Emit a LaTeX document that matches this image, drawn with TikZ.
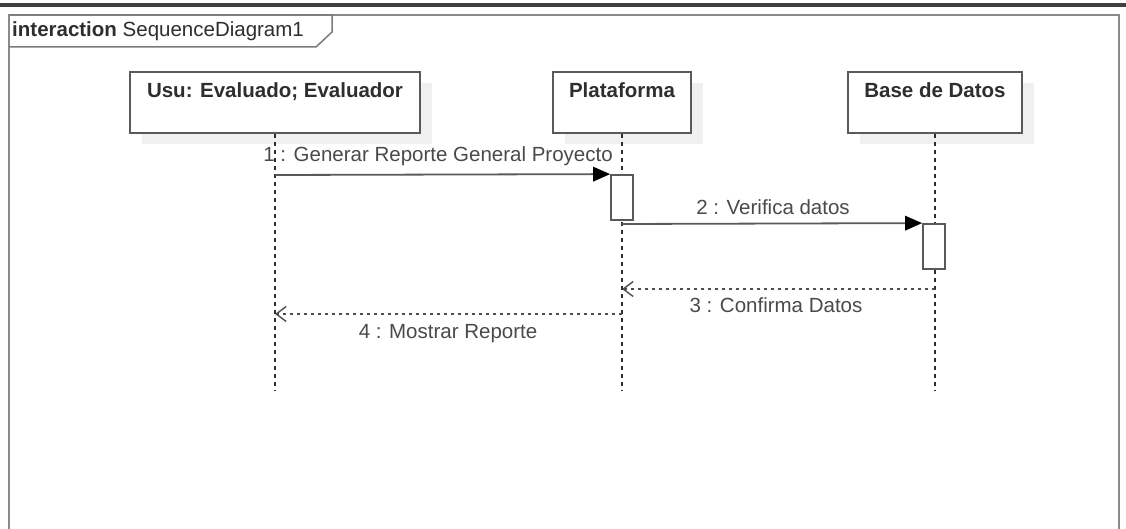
\documentclass[tikz,border=0pt]{standalone}
\usepackage{fontspec}
\setmainfont{Liberation Sans}
\usetikzlibrary{arrows.meta,shadows}
\definecolor{framegray}{HTML}{8A8A8A}
\definecolor{boxgray}{HTML}{5A5A5A}
\definecolor{txtgray}{HTML}{4A4A4A}
\definecolor{hdrtxt}{HTML}{2E2E2E}
\definecolor{shadowgray}{HTML}{F0F0F0}
\definecolor{topbar}{HTML}{404040}
\begin{document}
\begin{tikzpicture}[x=1pt,y=-1pt,
  every node/.style={font=\fontsize{20.5}{24}\selectfont},
  lifebox/.style={draw=boxgray, line width=1.8pt, fill=white, inner xsep=0pt, inner ysep=0pt,
    text height=26pt, text depth=35pt, text=hdrtxt, font=\fontsize{20.5}{24}\selectfont\bfseries,
    drop shadow={shadow xshift=12pt, shadow yshift=-11pt, fill=shadowgray, opacity=1}},
  actbox/.style={draw=boxgray, line width=1.8pt, fill=white, minimum width=22pt, minimum height=45pt, inner sep=0pt},
  lifeline/.style={draw=hdrtxt, line width=1.5pt, dash pattern=on 4pt off 4pt},
  msg/.style={draw=boxgray, line width=1.8pt, -{Triangle[length=17pt,width=15pt,fill=black,line width=0pt]}},
  ret/.style={draw=hdrtxt!85, line width=1.8pt, dash pattern=on 3.5pt off 3.5pt,
    -{Straight Barb[length=10pt,width=15pt,line width=1.4pt]}},
  lbl/.style={text=txtgray, anchor=base, inner sep=0pt}
]
\useasboundingbox (0,0) rectangle (1126,529);
\fill[white] (0,0) rectangle (1126,529);
% top bar
\fill[topbar] (0,3.5) rectangle (1126,7);
% frame
\draw[framegray, line width=2pt] (9,535) -- (9,15) -- (1119,15) -- (1119,535);
\draw[boxgray!80, line width=1.5pt] (9,15) -- (332,15) -- (332,32) -- (316,47) -- (9,47);
\node[anchor=base west, inner sep=0pt, text=hdrtxt] (title) at (12,37) {\textbf{interaction} SequenceDiagram1};

% lifeline headers
\node[lifebox, minimum width=290pt] (usu) at (275,102.5) {Usu: Evaluado; Evaluador};
\node[lifebox, minimum width=138pt] (plat) at (622,102.5) {Plataforma};
\node[lifebox, minimum width=174pt] (bd) at (935,102.5) {Base de Datos};

% lifeline ends
\coordinate (usuEnd) at (275,390);
\coordinate (platEnd) at (622,390);
\coordinate (bdEnd) at (935,390);
\draw[lifeline] (usu.south) -- (usuEnd);
\draw[lifeline] (plat.south) -- (platEnd);
\draw[lifeline] (bd.south) -- (bdEnd);

% activations
\node[actbox] (act1) at (622,197.5) {};
\node[actbox] (act2) at (934,246.5) {};

% message points
\coordinate (m1s) at (275,175);
\coordinate (m2s) at (622,224);
\coordinate (m3s) at (935,289);
\coordinate (m3e) at (622,289);
\coordinate (m4s) at (622,314);
\coordinate (m4e) at (275,314);

\draw[msg] (m1s) -- (act1.north west);
\draw[msg] (m2s) -- (act2.north west);
\draw[ret] (m3s) -- (m3e);
\draw[ret] (m4s) -- (m4e);

% labels
\node[lbl] (l1) at (438,162) {1 : Generar Reporte General Proyecto};
\node[lbl] (l2) at (773,215) {2 : Verifica datos};
\node[lbl] (l3) at (776,312) {3 : Confirma Datos};
\node[lbl] (l4) at (448,338) {4 : Mostrar Reporte};
\end{tikzpicture}
\end{document}
